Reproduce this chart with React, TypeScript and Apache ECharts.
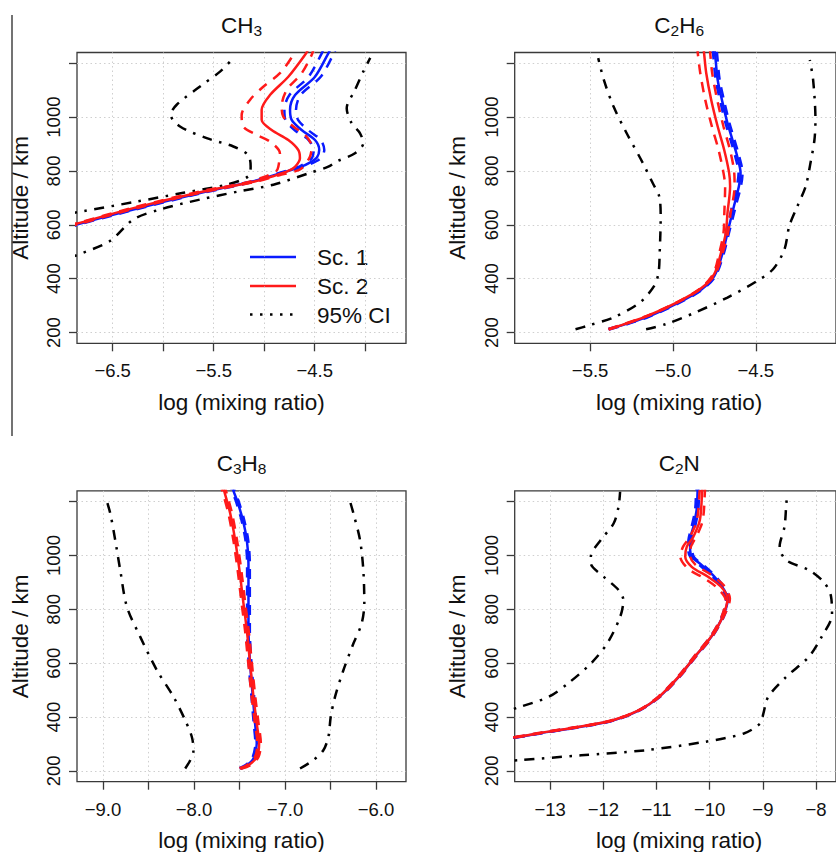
import React, { useEffect, useRef } from "react";
import * as echarts from "echarts";

// ---------- tick values ----------
const altTicks = [200, 400, 600, 800, 1000, 1200];
const altLabels = [200, 400, 600, 800, 1000];
const ch3Ticks = [-6.5, -6.0, -5.5, -5.0, -4.5, -4.0];
const ch3Labels = [-6.5, -5.5, -4.5];
const c2h6Ticks = [-5.5, -5.0, -4.5];
const c2h6Labels = [-5.5, -5.0, -4.5];
const c3h8Ticks = [-9.0, -8.5, -8.0, -7.5, -7.0, -6.5, -6.0];
const c3h8Labels = [-9.0, -8.0, -7.0, -6.0];
const c2nTicks = [-13, -12, -11, -10, -9, -8];
const c2nLabels = [-13, -12, -11, -10, -9, -8];

// ---------- CH3 : [log mixing ratio, altitude km] ----------
const ch3Sc1 = [[-6.95, 590], [-6.856, 601], [-6.295, 657], [-5.635, 718], [-5.107, 762], [-4.81, 795], [-4.64, 815], [-4.53, 835], [-4.478, 850], [-4.455, 878], [-4.497, 915], [-4.629, 952], [-4.728, 990], [-4.744, 1027], [-4.694, 1082], [-4.497, 1150], [-4.365, 1237], [-4.34, 1255]];
const ch3Sc1Lo = [[-6.95, 592], [-6.856, 603], [-6.295, 659], [-5.635, 720], [-5.107, 763], [-4.85, 793], [-4.68, 812], [-4.58, 833], [-4.525, 850], [-4.51, 878], [-4.56, 915], [-4.70, 952], [-4.79, 990], [-4.80, 1027], [-4.75, 1082], [-4.56, 1150], [-4.43, 1237], [-4.41, 1255]];
const ch3Sc1Hi = [[-6.95, 588], [-6.856, 599], [-6.295, 655], [-5.635, 716], [-5.107, 760], [-4.77, 797], [-4.60, 817], [-4.48, 837], [-4.43, 852], [-4.405, 878], [-4.44, 915], [-4.565, 952], [-4.665, 990], [-4.685, 1027], [-4.64, 1082], [-4.44, 1150], [-4.31, 1237], [-4.29, 1255]];
const ch3Sc2 = [[-6.95, 593], [-6.856, 604], [-6.295, 662], [-5.635, 721], [-5.107, 760], [-4.90, 782], [-4.76, 800], [-4.695, 815], [-4.646, 847], [-4.662, 878], [-4.761, 915], [-4.926, 952], [-5.025, 990], [-5.025, 1027], [-4.943, 1082], [-4.761, 1150], [-4.585, 1237], [-4.56, 1255]];
const ch3Sc2Lo = [[-6.95, 596], [-6.856, 606], [-6.295, 664], [-5.635, 724], [-5.2, 755], [-5.0, 778], [-4.88, 800], [-4.86, 816], [-4.844, 866], [-4.943, 909], [-5.074, 934], [-5.207, 965], [-5.223, 1008], [-5.141, 1064], [-5.009, 1113], [-4.844, 1163], [-4.712, 1231], [-4.69, 1255]];
const ch3Sc2Hi = [[-6.95, 590], [-6.856, 601], [-6.295, 659], [-5.635, 719], [-5.107, 758], [-4.85, 784], [-4.70, 798], [-4.629, 810], [-4.547, 853], [-4.53, 891], [-4.596, 934], [-4.712, 965], [-4.811, 1002], [-4.827, 1039], [-4.777, 1101], [-4.629, 1163], [-4.53, 1231], [-4.51, 1255]];
const ch3CiLo = [[-6.95, 640], [-6.79, 651], [-6.295, 684], [-5.8, 719], [-5.371, 749], [-5.157, 780], [-5.134, 817], [-5.16, 860], [-5.305, 891], [-5.569, 922], [-5.833, 965], [-5.926, 1009], [-5.866, 1046], [-5.635, 1114], [-5.437, 1169], [-5.3, 1222]];
const ch3CiHi = [[-6.95, 475], [-6.807, 494], [-6.526, 540], [-6.295, 620], [-6.031, 657], [-5.635, 694], [-5.239, 725], [-4.909, 749], [-4.546, 793], [-4.365, 816], [-4.282, 835], [-4.101, 866], [-4.019, 903], [-4.051, 940], [-4.134, 977], [-4.183, 1033], [-4.101, 1101], [-4.019, 1169], [-3.969, 1206], [-3.95, 1220]];

// ---------- C2H6 ----------
const c2h6Sc1 = [[-5.388, 212], [-5.162, 256], [-4.966, 311], [-4.828, 360], [-4.75, 410], [-4.7, 496], [-4.671, 570], [-4.632, 669], [-4.602, 743], [-4.592, 793], [-4.612, 854], [-4.641, 916], [-4.671, 978], [-4.7, 1052], [-4.73, 1138], [-4.746, 1237], [-4.75, 1255]];
const c2h6Sc1Lo = [[-5.39, 213], [-5.165, 257], [-4.97, 312], [-4.833, 361], [-4.757, 411], [-4.708, 496], [-4.68, 570], [-4.643, 669], [-4.614, 743], [-4.604, 793], [-4.624, 854], [-4.653, 916], [-4.683, 978], [-4.712, 1052], [-4.742, 1138], [-4.758, 1237], [-4.762, 1255]];
const c2h6Sc1Hi = [[-5.386, 211], [-5.159, 255], [-4.962, 310], [-4.823, 359], [-4.744, 409], [-4.692, 496], [-4.662, 570], [-4.621, 669], [-4.59, 743], [-4.58, 793], [-4.6, 854], [-4.629, 916], [-4.659, 978], [-4.688, 1052], [-4.718, 1138], [-4.734, 1237], [-4.738, 1255]];
const c2h6Sc2 = [[-5.388, 212], [-5.162, 260], [-4.966, 315], [-4.828, 365], [-4.75, 418], [-4.71, 496], [-4.681, 570], [-4.671, 643], [-4.655, 743], [-4.661, 793], [-4.691, 879], [-4.73, 965], [-4.769, 1064], [-4.799, 1163], [-4.812, 1237], [-4.815, 1255]];
const c2h6Sc2Lo = [[-5.388, 213], [-5.162, 261], [-4.966, 316], [-4.828, 367], [-4.755, 420], [-4.72, 496], [-4.695, 570], [-4.69, 643], [-4.685, 743], [-4.695, 793], [-4.725, 879], [-4.765, 965], [-4.805, 1064], [-4.835, 1163], [-4.85, 1237], [-4.852, 1255]];
const c2h6Sc2Hi = [[-5.388, 211], [-5.162, 259], [-4.966, 314], [-4.828, 364], [-4.745, 416], [-4.7, 496], [-4.668, 570], [-4.652, 643], [-4.628, 743], [-4.63, 793], [-4.656, 879], [-4.695, 965], [-4.733, 1064], [-4.763, 1163], [-4.775, 1237], [-4.777, 1255]];
const c2h6CiLo = [[-5.588, 212], [-5.516, 225], [-5.359, 256], [-5.201, 311], [-5.113, 373], [-5.087, 422], [-5.08, 496], [-5.074, 632], [-5.083, 706], [-5.123, 756], [-5.182, 830], [-5.28, 941], [-5.359, 1040], [-5.417, 1138], [-5.451, 1219]];
const c2h6CiHi = [[-5.162, 212], [-5.044, 231], [-4.867, 274], [-4.671, 330], [-4.494, 391], [-4.396, 435], [-4.327, 509], [-4.298, 595], [-4.249, 669], [-4.199, 743], [-4.17, 830], [-4.146, 916], [-4.14, 990], [-4.154, 1138], [-4.174, 1212]];

// ---------- C3H8 ----------
const c3h8Sc1 = [[-7.492, 209], [-7.419, 221], [-7.346, 246], [-7.31, 302], [-7.328, 376], [-7.353, 475], [-7.383, 599], [-7.401, 723], [-7.401, 847], [-7.401, 971], [-7.419, 1057], [-7.463, 1132], [-7.522, 1200], [-7.566, 1240], [-7.58, 1255]];
const c3h8Sc1Lo = [[-7.5, 210], [-7.432, 222], [-7.36, 247], [-7.325, 302], [-7.343, 376], [-7.368, 475], [-7.398, 599], [-7.416, 723], [-7.416, 847], [-7.416, 971], [-7.434, 1057], [-7.478, 1132], [-7.537, 1200], [-7.581, 1240], [-7.595, 1255]];
const c3h8Sc1Hi = [[-7.485, 208], [-7.406, 220], [-7.332, 245], [-7.295, 302], [-7.313, 376], [-7.338, 475], [-7.368, 599], [-7.386, 723], [-7.386, 847], [-7.386, 971], [-7.404, 1057], [-7.448, 1132], [-7.507, 1200], [-7.551, 1240], [-7.565, 1255]];
const c3h8Sc2 = [[-7.492, 209], [-7.401, 221], [-7.31, 252], [-7.284, 302], [-7.31, 376], [-7.346, 475], [-7.383, 599], [-7.419, 723], [-7.456, 822], [-7.5, 946], [-7.547, 1057], [-7.602, 1157], [-7.668, 1240], [-7.68, 1255]];
const c3h8Sc2Lo = [[-7.5, 210], [-7.418, 222], [-7.328, 253], [-7.303, 302], [-7.33, 376], [-7.366, 475], [-7.403, 599], [-7.439, 723], [-7.476, 822], [-7.52, 946], [-7.567, 1057], [-7.622, 1157], [-7.688, 1240], [-7.7, 1255]];
const c3h8Sc2Hi = [[-7.484, 208], [-7.384, 220], [-7.292, 251], [-7.265, 302], [-7.29, 376], [-7.326, 475], [-7.363, 599], [-7.399, 723], [-7.436, 822], [-7.48, 946], [-7.527, 1057], [-7.582, 1157], [-7.648, 1240], [-7.66, 1255]];
const c3h8CiLo = [[-8.096, 209], [-8.041, 240], [-8.005, 277], [-8.023, 326], [-8.096, 388], [-8.224, 475], [-8.407, 574], [-8.59, 698], [-8.737, 810], [-8.81, 946], [-8.865, 1057], [-8.92, 1157], [-8.974, 1221]];
const c3h8CiHi = [[-6.834, 209], [-6.688, 240], [-6.578, 277], [-6.523, 326], [-6.497, 401], [-6.45, 475], [-6.358, 574], [-6.248, 673], [-6.157, 748], [-6.128, 822], [-6.139, 946], [-6.175, 1057], [-6.248, 1157], [-6.303, 1222]];

// ---------- C2N ----------
const c2nSc1 = [[-14.0, 318], [-13.667, 324], [-13.031, 345], [-12.419, 364], [-11.807, 388], [-11.317, 426], [-10.95, 475], [-10.583, 549], [-10.277, 624], [-9.971, 698], [-9.757, 772], [-9.665, 834], [-9.726, 872], [-9.909, 921], [-10.154, 965], [-10.33, 995], [-10.368, 1020], [-10.368, 1057], [-10.307, 1107], [-10.246, 1169], [-10.228, 1237], [-10.225, 1255]];
const c2nSc1Lo = [[-14.0, 319], [-13.667, 325], [-13.031, 346], [-12.419, 365], [-11.807, 389], [-11.317, 427], [-10.96, 476], [-10.595, 550], [-10.29, 625], [-9.985, 699], [-9.775, 773], [-9.69, 834], [-9.76, 874], [-9.95, 922], [-10.2, 966], [-10.37, 997], [-10.405, 1022], [-10.4, 1057], [-10.34, 1107], [-10.275, 1169], [-10.255, 1237], [-10.25, 1255]];
const c2nSc1Hi = [[-14.0, 317], [-13.667, 323], [-13.031, 344], [-12.419, 363], [-11.807, 387], [-11.317, 425], [-10.94, 474], [-10.571, 548], [-10.264, 623], [-9.957, 697], [-9.739, 771], [-9.64, 834], [-9.695, 870], [-9.87, 919], [-10.11, 963], [-10.29, 993], [-10.33, 1018], [-10.335, 1057], [-10.275, 1107], [-10.215, 1169], [-10.2, 1237], [-10.198, 1255]];
const c2nSc2 = [[-14.0, 319], [-13.667, 325], [-13.031, 346], [-12.419, 365], [-11.807, 389], [-11.317, 427], [-10.95, 476], [-10.583, 550], [-10.277, 625], [-9.971, 699], [-9.757, 773], [-9.665, 841], [-9.787, 884], [-10.032, 921], [-10.338, 958], [-10.46, 996], [-10.43, 1033], [-10.307, 1070], [-10.185, 1132], [-10.142, 1237], [-10.14, 1255]];
const c2nSc2Lo = [[-14.0, 320], [-13.667, 326], [-13.031, 347], [-12.419, 366], [-11.807, 390], [-11.317, 428], [-10.96, 477], [-10.595, 551], [-10.29, 626], [-9.985, 700], [-9.775, 774], [-9.7, 834], [-9.85, 878], [-10.1, 915], [-10.4, 950], [-10.552, 996], [-10.5, 1033], [-10.37, 1070], [-10.24, 1132], [-10.19, 1237], [-10.185, 1255]];
const c2nSc2Hi = [[-14.0, 318], [-13.667, 324], [-13.031, 345], [-12.419, 364], [-11.807, 388], [-11.317, 426], [-10.94, 475], [-10.571, 549], [-10.264, 624], [-9.957, 698], [-9.739, 772], [-9.62, 840], [-9.74, 890], [-9.97, 928], [-10.27, 966], [-10.37, 1000], [-10.35, 1035], [-10.24, 1075], [-10.13, 1132], [-10.09, 1237], [-10.088, 1255]];
const c2nCiLo = [[-14.0, 410], [-13.612, 435], [-13.031, 475], [-12.664, 525], [-12.235, 599], [-11.929, 673], [-11.684, 772], [-11.623, 834], [-11.715, 872], [-11.99, 921], [-12.235, 971], [-12.235, 996], [-12.051, 1057], [-11.807, 1119], [-11.715, 1181], [-11.685, 1237]];
const c2nCiHi = [[-14.0, 236], [-13.581, 240], [-12.419, 258], [-11.195, 277], [-10.093, 308], [-9.359, 339], [-9.053, 376], [-8.991, 413], [-8.9, 475], [-8.563, 549], [-8.135, 624], [-7.89, 700], [-7.7, 780], [-7.72, 850], [-7.85, 900], [-8.135, 946], [-8.563, 983], [-8.685, 1033], [-8.593, 1107], [-8.563, 1181], [-8.545, 1225]];

// ---------- text ----------
const titles = [["CH", "3", ""], ["C", "2", "H", "6"], ["C", "3", "H", "8"], ["C", "2", "N"]];
const xTitle = "log (mixing ratio)";
const yTitle = "Altitude / km";
const legendLabels = ["Sc. 1", "Sc. 2", "95% CI"];

const FONT = "'Liberation Sans', Arial, Helvetica, sans-serif";
const BLUE = "#0a1bff";
const RED = "#ff1a1a";
const BLACK = "#000000";
const DASH = [10, 8];
const DOTDASH = [10, 7.5, 2.5, 7.5];

const panels = [
  { left: 77, top: 52.5, xMin: -6.853, xMax: -3.596, ticks: ch3Ticks, labels: ch3Labels, dec: 1,
    lines: [ch3CiLo, ch3CiHi, ch3Sc1, ch3Sc1Lo, ch3Sc1Hi, ch3Sc2, ch3Sc2Lo, ch3Sc2Hi] },
  { left: 514.7, top: 52.5, xMin: -5.955, xMax: -4.016, ticks: c2h6Ticks, labels: c2h6Labels, dec: 1,
    lines: [c2h6CiLo, c2h6CiHi, c2h6Sc1, c2h6Sc1Lo, c2h6Sc1Hi, c2h6Sc2, c2h6Sc2Lo, c2h6Sc2Hi] },
  { left: 77, top: 490.9, xMin: -9.285, xMax: -5.67, ticks: c3h8Ticks, labels: c3h8Labels, dec: 1,
    lines: [c3h8CiLo, c3h8CiHi, c3h8Sc1, c3h8Sc1Lo, c3h8Sc1Hi, c3h8Sc2, c3h8Sc2Lo, c3h8Sc2Hi] },
  { left: 514.7, top: 490.9, xMin: -13.667, xMax: -7.625, ticks: c2nTicks, labels: c2nLabels, dec: 0,
    lines: [c2nCiLo, c2nCiHi, c2nSc1, c2nSc1Lo, c2nSc1Hi, c2nSc2, c2nSc2Lo, c2nSc2Hi] },
];
const PW = 329;
const PH = 290.8;

const fmt = (dec: number) => (v: number) => (v < 0 ? "\u2212" : "") + Math.abs(v).toFixed(dec);

function lineSeries(data: number[][], idx: number, color: string, type: any, z: number) {
  return {
    type: "line",
    xAxisIndex: idx,
    yAxisIndex: idx,
    data,
    symbol: "none",
    showSymbol: false,
    smooth: 0.3,
    clip: true,
    silent: true,
    z,
    lineStyle: { color, width: 2.5, type, cap: "butt" },
  };
}

function buildOption() {
  const grid: any[] = [];
  const xAxis: any[] = [];
  const yAxis: any[] = [];
  const series: any[] = [];
  const graphic: any[] = [];

  panels.forEach((p, i) => {
    grid.push({ left: p.left, top: p.top, width: PW, height: PH, show: true, borderColor: "#3a3a3a", borderWidth: 1.3, backgroundColor: "transparent", containLabel: false });
    xAxis.push({
      type: "value", gridIndex: i, min: p.xMin, max: p.xMax,
      axisLine: { show: false },
      axisTick: { show: true, length: 8, customValues: p.ticks, lineStyle: { color: "#3a3a3a", width: 1.3 } },
      axisLabel: { show: true, customValues: p.labels, formatter: fmt(p.dec), margin: 18, fontSize: 18.5, fontFamily: FONT, color: "#111" },
      splitLine: { show: true, lineStyle: { color: "#cfcfcf", type: [1.5, 3], width: 1 } },
    });
    yAxis.push({
      type: "value", gridIndex: i, min: 160, max: 1240,
      axisLine: { show: false },
      axisTick: { show: true, length: 8, customValues: altTicks, lineStyle: { color: "#3a3a3a", width: 1.3 } },
      axisLabel: { show: true, customValues: altLabels, rotate: 90, margin: 14, fontSize: 18.5, fontFamily: FONT, color: "#111", formatter: (v: number) => String(Math.round(v)) },
      splitLine: { show: true, lineStyle: { color: "#cfcfcf", type: [1.5, 3], width: 1 } },
    });
    const [ciLo, ciHi, s1, s1Lo, s1Hi, s2, s2Lo, s2Hi] = p.lines;
    series.push(lineSeries(ciLo, i, BLACK, DOTDASH, 3));
    series.push(lineSeries(ciHi, i, BLACK, DOTDASH, 3));
    series.push(lineSeries(s1, i, BLUE, "solid", 4));
    series.push(lineSeries(s1Lo, i, BLUE, DASH, 4));
    series.push(lineSeries(s1Hi, i, BLUE, DASH, 4));
    series.push(lineSeries(s2, i, RED, "solid", 5));
    series.push(lineSeries(s2Lo, i, RED, DASH, 5));
    series.push(lineSeries(s2Hi, i, RED, DASH, 5));

    const cx = p.left + PW / 2;
    const t = titles[i];
    let rt = "";
    for (let k = 0; k < t.length; k++) {
      if (!t[k]) continue;
      rt += k % 2 === 0 ? `{m|${t[k]}}` : `{s|${t[k]}}`;
    }
    graphic.push({
      type: "text", x: cx, y: p.top - 39, silent: true,
      style: {
        text: rt, align: "center", verticalAlign: "top",
        rich: {
          m: { fontSize: 22.5, fontFamily: FONT, fill: "#111", lineHeight: 26, verticalAlign: "top" },
          s: { fontSize: 15.5, fontFamily: FONT, fill: "#111", lineHeight: 18, padding: [9, 0, 0, 0], verticalAlign: "top" },
        },
      },
    });
    graphic.push({
      type: "text", x: cx, y: p.top + PH + 59, silent: true,
      style: { text: xTitle, align: "center", verticalAlign: "middle", fontSize: 22.5, fontFamily: FONT, fill: "#111" },
    });
    graphic.push({
      type: "text", x: p.left - 57, y: p.top + PH / 2, rotation: Math.PI / 2, silent: true,
      style: { text: yTitle, align: "center", verticalAlign: "middle", fontSize: 22.5, fontFamily: FONT, fill: "#111" },
    });
  });

  // legend in first panel
  const legY = [257, 286, 314.5];
  const legColors = [BLUE, RED, BLACK];
  legY.forEach((y, k) => {
    graphic.push({
      type: "line", silent: true,
      shape: { x1: 250, y1: y, x2: 296, y2: y },
      style: { stroke: legColors[k], lineWidth: 2.5, lineDash: k === 2 ? [2.5, 7.5] : null, lineCap: "butt" },
    });
    graphic.push({
      type: "text", x: 317, y: y + 0.5, silent: true,
      style: { text: legendLabels[k], align: "left", verticalAlign: "middle", fontSize: 22.5, fontFamily: FONT, fill: "#111" },
    });
  });

  // vertical separator line at left
  graphic.push({
    type: "line", silent: true,
    shape: { x1: 12, y1: 15, x2: 12, y2: 436 },
    style: { stroke: "#444", lineWidth: 1.5 },
  });

  return {
    animation: false,
    backgroundColor: "#ffffff",
    grid, xAxis, yAxis, series, graphic,
  };
}

export default function App() {
  const ref = useRef<HTMLDivElement>(null);
  useEffect(() => {
    if (!ref.current) return;
    const chart = echarts.init(ref.current, null, { renderer: "svg" });
    chart.setOption(buildOption() as any);
    return () => chart.dispose();
  }, []);
  return (
    <div
      ref={ref}
      style={{ position: "absolute", left: 0, top: 0, width: 836, height: 852, background: "#fff" }}
    />
  );
}
